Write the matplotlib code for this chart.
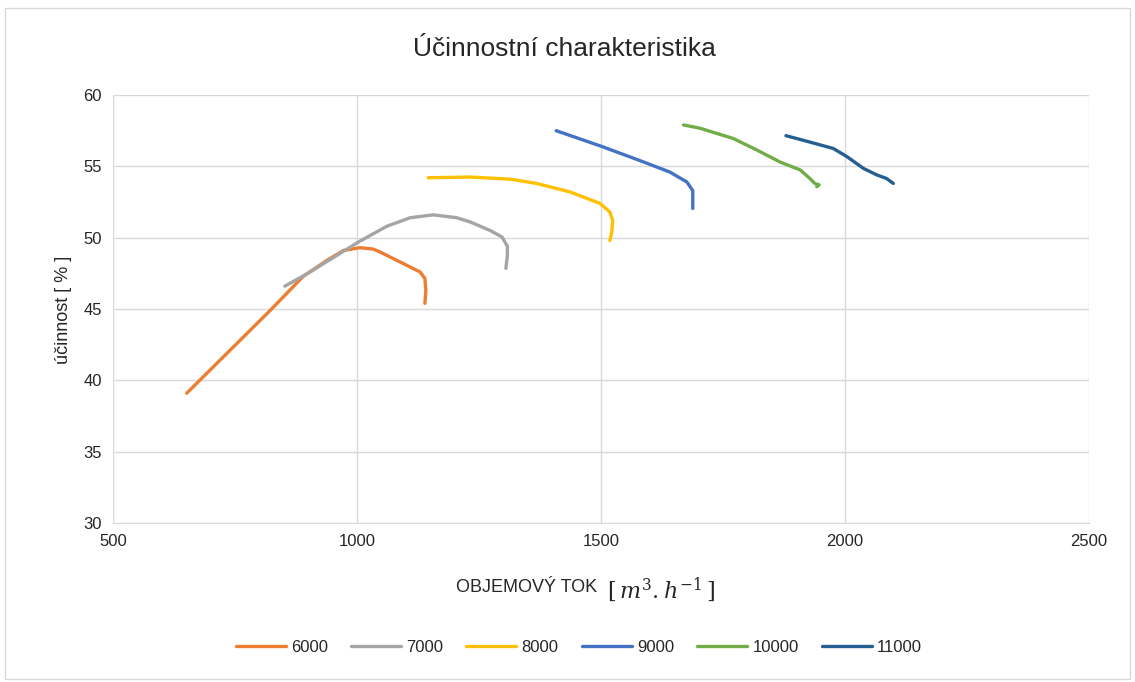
import matplotlib.pyplot as plt
from matplotlib.patches import Rectangle

plt.rcParams['font.family'] = ['Liberation Sans Narrow', 'Liberation Sans', 'DejaVu Sans']
plt.rcParams['mathtext.fontset'] = 'dejavuserif'

# volume flow [m3/h] and efficiency [%] for each fan speed
q_6000 = [651, 822, 890, 938, 972, 1006, 1033, 1047, 1088, 1129, 1139, 1141, 1139]
eta_6000 = [39.1, 44.9, 47.3, 48.4, 49.1, 49.3, 49.2, 49.0, 48.3, 47.6, 47.15, 46.3, 45.4]

q_7000 = [852, 904, 1003, 1061, 1109, 1156, 1204, 1232, 1273, 1297, 1308, 1308, 1305]
eta_7000 = [46.6, 47.6, 49.7, 50.8, 51.4, 51.6, 51.4, 51.1, 50.5, 50.05, 49.4, 48.7, 47.85]

q_8000 = [1146, 1232, 1314, 1368, 1437, 1498, 1518, 1524, 1522, 1518]
eta_8000 = [54.2, 54.25, 54.1, 53.8, 53.2, 52.4, 51.8, 51.2, 50.4, 49.8]

q_9000 = [1408, 1501, 1580, 1641, 1676, 1688, 1688]
eta_9000 = [57.5, 56.4, 55.4, 54.6, 53.9, 53.3, 52.05]

q_10000 = [1669, 1703, 1771, 1819, 1867, 1908, 1928, 1938, 1947, 1942]
eta_10000 = [57.9, 57.67, 56.95, 56.15, 55.3, 54.75, 54.15, 53.8, 53.7, 53.57]

q_11000 = [1879, 1928, 1976, 2003, 2038, 2065, 2085, 2099]
eta_11000 = [57.15, 56.7, 56.25, 55.7, 54.85, 54.4, 54.15, 53.8]

series = [
    ('6000', q_6000, eta_6000, '#ED7D31'),
    ('7000', q_7000, eta_7000, '#A5A5A5'),
    ('8000', q_8000, eta_8000, '#FFC000'),
    ('9000', q_9000, eta_9000, '#4472C4'),
    ('10000', q_10000, eta_10000, '#70AD47'),
    ('11000', q_11000, eta_11000, '#255E91'),
]

text_color = '#262626'

fig = plt.figure(figsize=(11.35, 6.82), dpi=100)
fig.patches.append(Rectangle((0.004, 0.004), 0.992, 0.985, transform=fig.transFigure,
                             fill=False, edgecolor='#d9d9d9', linewidth=1))
ax = fig.add_axes([0.0996, 0.2331, 0.8599, 0.6276])

for name, q, eta, color in series:
    ax.plot(q, eta, color=color, linewidth=2.4, label=name,
            solid_joinstyle='round', solid_capstyle='round')

ax.set_xlim(500, 2500)
ax.set_ylim(30, 60)
ax.set_xticks(range(500, 2501, 500))
ax.set_yticks(range(30, 61, 5))
ax.grid(True, color='#d9d9d9', linewidth=1)
ax.set_axisbelow(True)
for side in ['top', 'right', 'left']:
    ax.spines[side].set_visible(False)
ax.spines['bottom'].set_color('#d9d9d9')
ax.tick_params(length=0, labelsize=12, colors=text_color, pad=8)

fig.text(0.497, 0.928, 'Účinnostní charakteristika', ha='center', va='center',
         fontsize=19, color=text_color)
fig.text(0.535, 0.138, 'OBJEMOVÝ TOK  ', ha='right', va='center', fontsize=13, color=text_color)
fig.text(0.535, 0.136, r'$[\,m^3.h^{-1}\,]$', ha='left', va='center', fontsize=16, color=text_color)
fig.text(0.056, 0.545, 'účinnost [ % ]', rotation=90, ha='center', va='center',
         fontsize=13, color=text_color)

fig.legend(loc='center', bbox_to_anchor=(0.51, 0.051), ncol=6, frameon=False,
           fontsize=12, handlelength=3.0, handletextpad=0.3, columnspacing=1.4,
           labelcolor=text_color)

fig.savefig('out.png', dpi=100)
